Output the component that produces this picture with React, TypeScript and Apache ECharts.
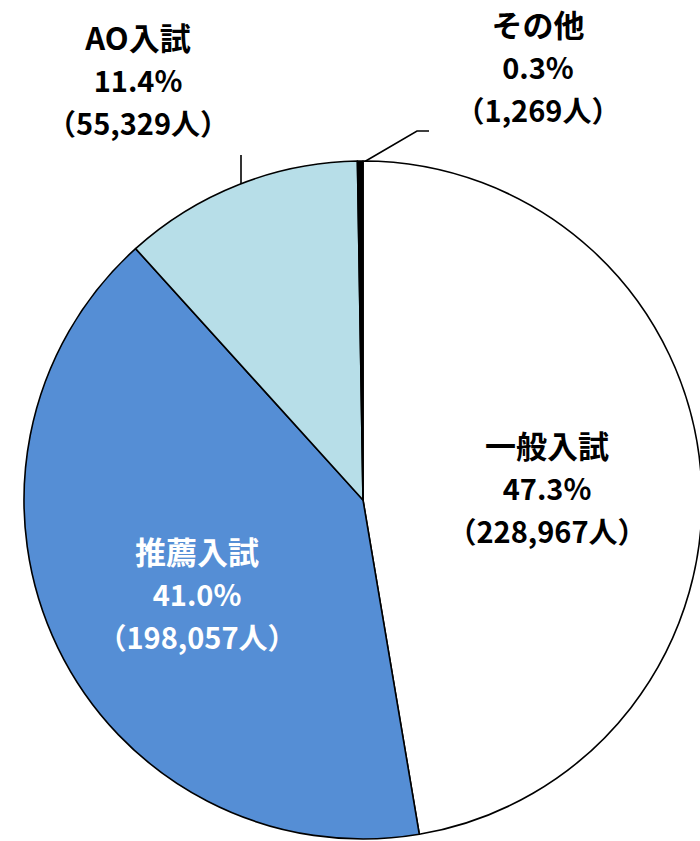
import React, { useEffect, useRef } from "react";
import * as echarts from "echarts";

const categories = ["一般入試", "推薦入試", "AO入試", "その他"];
const counts = [228967, 198057, 55329, 1269];
const colors = ["#FFFFFF", "#558ED5", "#B7DEE8", "#000000"];
const labelColors = ["#000000", "#FFFFFF", "#000000", "#000000"];
// label anchor positions (centre of the three-line label block)
const labelPos: [number, number][] = [
  [547, 487],
  [197, 593],
  [138, 79],
  [538, 66],
];
const leaderLines: (number[][] | null)[] = [
  null,
  null,
  [[241, 186], [241, 170], [241, 155]],
  [[364, 162], [417, 131], [429, 131]],
];

export default function App() {
  const ref = useRef<HTMLDivElement>(null);
  useEffect(() => {
    if (!ref.current) return;
    const chart = echarts.init(ref.current, null, { renderer: "svg" });
    const cjk = "'Noto Sans CJK JP', sans-serif";
    chart.setOption({
      animation: false,
      backgroundColor: "#FFFFFF",
      series: [
        {
          type: "pie",
          center: [363, 500],
          radius: 339,
          startAngle: 90,
          clockwise: true,
          avoidLabelOverlap: false,
          silent: true,
          itemStyle: { borderColor: "#000000", borderWidth: 1.6 },
          data: categories.map((name, i) => ({
            name,
            value: counts[i],
            itemStyle: { color: colors[i] },
            label: {
              show: true,
              position: leaderLines[i] ? "outside" : "inside",
              color: labelColors[i],
            },
            labelLine: {
              show: !!leaderLines[i],
              lineStyle: { color: "#000000", width: 1.6 },
            },
          })),
          label: {
            formatter: (p: any) =>
              `{n|${p.name}}\n{v|${p.percent.toFixed(1)}%}\n{v|（${Number(
                p.value
              ).toLocaleString("en-US")}人）}`,
            rich: {
              n: { fontFamily: cjk, fontSize: 31, fontWeight: "bold", lineHeight: 43 },
              v: { fontFamily: cjk, fontSize: 29, fontWeight: "bold", lineHeight: 43 },
            },
            align: "center",
          },
          percentPrecision: 1,
          labelLayout: (params: any) => {
            const i = params.dataIndex;
            const res: any = {
              x: labelPos[i][0],
              y: labelPos[i][1],
              align: "center",
              verticalAlign: "middle",
              hideOverlap: false,
            };
            if (leaderLines[i]) res.labelLinePoints = leaderLines[i];
            return res;
          },
        },
      ],
    });
    return () => chart.dispose();
  }, []);
  return <div ref={ref} style={{ width: 700, height: 841, position: "absolute", left: 0, top: 0 }} />;
}
